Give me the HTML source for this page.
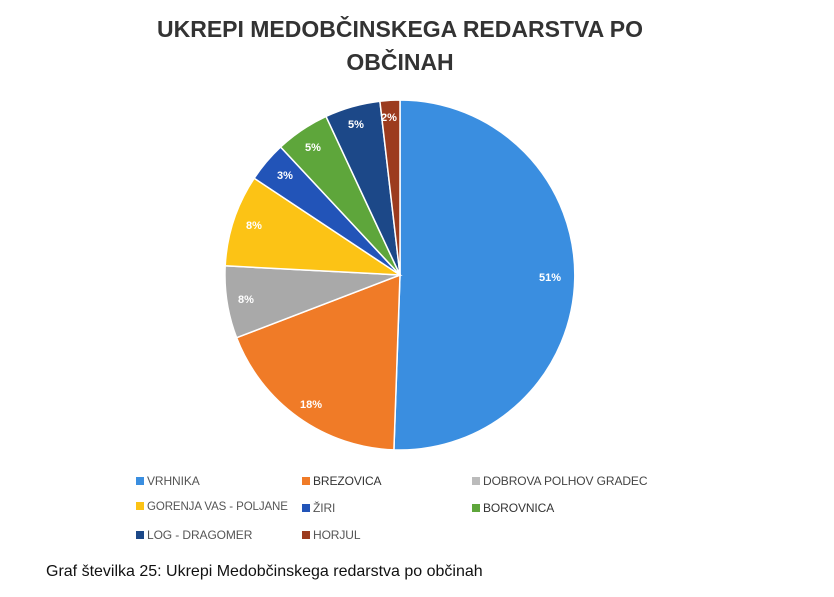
<!DOCTYPE html>
<html><head><meta charset="utf-8"><style>
body{margin:0;width:834px;height:597px;background:#fff;overflow:hidden;font-family:"Liberation Sans",sans-serif;position:relative}
.t{position:absolute;left:0;width:800px;text-align:center;font-weight:bold;font-size:23px;color:#333}
.lg{position:absolute;font-size:12px;color:#555;letter-spacing:-0.1px}
.lg i{display:inline-block;width:8px;height:8px;margin-right:3px;vertical-align:0px}
</style></head><body>
<div class="t" style="top:16px">UKREPI MEDOBČINSKEGA REDARSTVA PO</div>
<div class="t" style="top:49px">OBČINAH</div>
<svg width="834" height="597" style="position:absolute;left:0;top:0">
<g stroke="#fff" stroke-width="1.5">
<path d="M400,275 L400,100 A175,175 0 1 1 393.9,449.9Z" fill="#3a8ee0"/>
<path d="M400,275 L393.9,449.9 A175,175 0 0 1 236.6,337.7Z" fill="#f07b27"/>
<path d="M400,275 L236.6,337.7 A175,175 0 0 1 225.2,265.8Z" fill="#a9a9a9"/>
<path d="M400,275 L225.2,265.8 A175,175 0 0 1 254.2,178.2Z" fill="#fcc315"/>
<path d="M400,275 L254.2,178.2 A175,175 0 0 1 280.6,147Z" fill="#2254b8"/>
<path d="M400,275 L280.6,147 A175,175 0 0 1 326,116.4Z" fill="#5ea63b"/>
<path d="M400,275 L326,116.4 A175,175 0 0 1 379.9,101.2Z" fill="#1c4888"/>
<path d="M400,275 L379.9,101.2 A175,175 0 0 1 400,100Z" fill="#9c3b1e"/>
</g>
<g font-family="Liberation Sans" font-weight="bold" font-size="11" fill="#fff" text-anchor="middle">
<text x="550" y="281">51%</text>
<text x="311" y="408">18%</text>
<text x="246" y="303">8%</text>
<text x="254" y="229">8%</text>
<text x="285" y="179">3%</text>
<text x="313" y="151">5%</text>
<text x="356" y="128">5%</text>
<text x="389" y="121">2%</text>
</g>
</svg>
<div class="lg" style="left:136px;top:474px"><i style="background:#3a8ee0"></i>VRHNIKA</div>
<div class="lg" style="left:302px;top:474px;color:#333"><i style="background:#f07b27"></i>BREZOVICA</div>
<div class="lg" style="left:472px;top:474px;color:#444"><i style="background:#bbb"></i>DOBROVA POLHOV GRADEC</div>
<div class="lg" style="left:136px;top:501px;font-size:11.5px"><i style="background:#fcc315"></i>GORENJA VAS - POLJANE</div>
<div class="lg" style="left:302px;top:501px"><i style="background:#2254b8"></i>ŽIRI</div>
<div class="lg" style="left:472px;top:501px;color:#333"><i style="background:#5ea63b"></i>BOROVNICA</div>
<div class="lg" style="left:136px;top:528px"><i style="background:#1c4888"></i>LOG - DRAGOMER</div>
<div class="lg" style="left:302px;top:528px"><i style="background:#9c3b1e"></i>HORJUL</div>
<div style="position:absolute;left:46px;top:563px;font-size:16px;color:#111">Graf številka 25: Ukrepi Medobčinskega redarstva po občinah</div>
</body></html>
